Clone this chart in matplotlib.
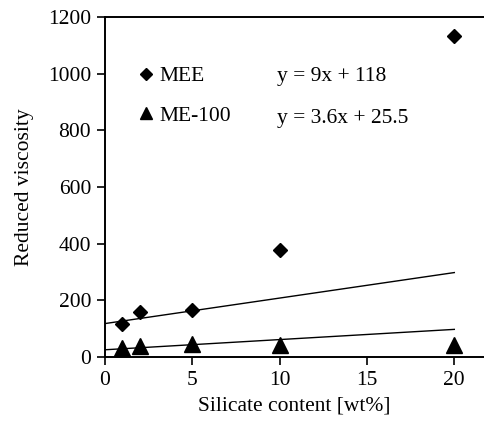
import matplotlib
matplotlib.use("Agg")
import matplotlib.pyplot as plt
import numpy as np

plt.rcParams['font.family'] = 'serif'
plt.rcParams['font.serif'] = ['Liberation Serif']

silicate = [1, 2, 5, 10, 20]
mee_visc = [118, 158, 165, 377, 1132]
me100_visc = [31, 38, 46, 41, 41]

mee_fit = (9.0, 118.0)
me100_fit = (3.6, 25.5)
mee_eq = "y = 9x + 118"
me100_eq = "y = 3.6x + 25.5"

x_ticks = [0, 5, 10, 15, 20]
y_ticks = [0, 200, 400, 600, 800, 1000, 1200]

FS = 15.5

fig = plt.figure(figsize=(4.84, 4.24), dpi=100)
ax = fig.add_axes([105 / 484, 1 - 357 / 424, 1 - 105 / 484, 340 / 424])

ax.plot(silicate, mee_visc, linestyle='none', marker='D', markersize=7.6,
        color='black', label='MEE', clip_on=False)
ax.plot(silicate, me100_visc, linestyle='none', marker='^', markersize=11,
        color='black', label='ME-100', clip_on=False)

# linear trend lines
xf = np.array([0, 20])
ax.plot(xf, mee_fit[0] * xf + mee_fit[1], color='black', lw=1.0)
ax.plot(xf, me100_fit[0] * xf + me100_fit[1], color='black', lw=1.0)

ax.set_xlim(0, 21.7)
ax.set_ylim(0, 1200)
ax.set_xticks(x_ticks)
ax.set_xticklabels([str(v) for v in x_ticks], family='Liberation Serif')
ax.set_yticks(y_ticks)
ax.set_yticklabels([str(v) for v in y_ticks], family='Liberation Serif')
ax.spines['right'].set_visible(False)
for s in ['left', 'bottom', 'top']:
    ax.spines[s].set_linewidth(1.4)
ax.tick_params(direction='out', length=6, width=1.2, labelsize=FS, pad=4)

ax.set_xlabel('Silicate content [wt%]', fontsize=FS, labelpad=5)
ax.set_ylabel('Reduced viscosity', fontsize=FS, labelpad=10)

leg = ax.legend(loc='upper left', bbox_to_anchor=(0.062, 0.88), frameon=False,
                fontsize=FS, handlelength=0.8, handletextpad=0.25, labelspacing=0.9,
                borderaxespad=0, markerscale=0.85)

ax.text((277 - 105) / (484 - 105), (357 - 77) / 340, mee_eq, transform=ax.transAxes,
        fontsize=FS, va='center')
ax.text((277 - 105) / (484 - 105), (357 - 119) / 340, me100_eq, transform=ax.transAxes,
        fontsize=FS, va='center')

fig.savefig('out.png', dpi=100)
